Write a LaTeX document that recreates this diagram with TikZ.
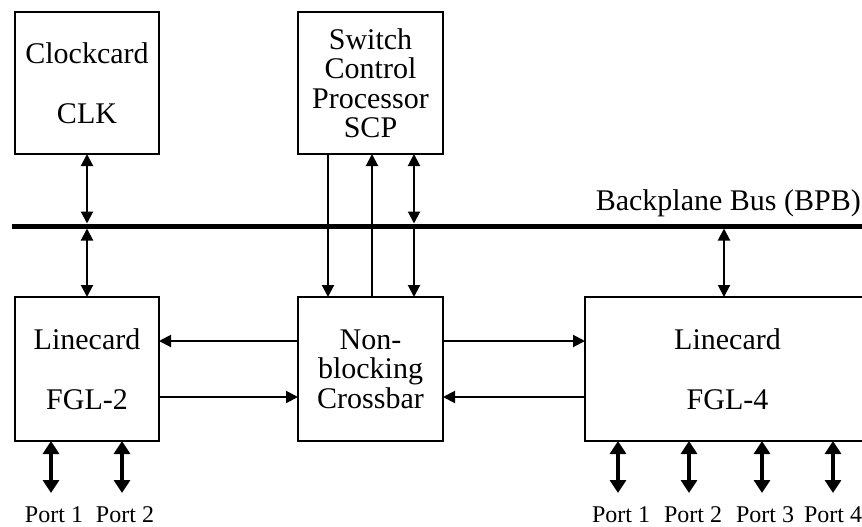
\documentclass[tikz,border=0pt]{standalone}
\usepackage{fontspec}
\setmainfont{Liberation Serif}
\usetikzlibrary{arrows.meta}
\begin{document}
\begin{tikzpicture}[x=1pt,y=-1pt,
  box/.style={draw,line width=2pt,inner sep=0pt,outer sep=0pt,align=center,font=\fontsize{30}{29.5}\selectfont},
  conn/.style={line width=2pt,>={Triangle[length=12pt,width=12pt]}},
  port/.style={line width=4.5pt,>={Triangle[length=13pt,width=16pt]}},
  plabel/.style={font=\fontsize{24}{24}\selectfont,inner sep=0pt},
  buslabel/.style={font=\fontsize{30}{30}\selectfont,inner sep=0pt}]
\useasboundingbox (0,0) rectangle (862,527);
% boxes
\node[box,minimum width=144pt,minimum height=142pt] (clk) at (87,83) {Clockcard\\[31pt]CLK};
\node[box,minimum width=145pt,minimum height=142pt] (scp) at (370.5,83) {Switch\\Control\\Processor\\SCP};
\node[box,minimum width=144pt,minimum height=144pt] (fgl2) at (87,369) {Linecard\\[31pt]FGL-2};
\node[box,minimum width=145pt,minimum height=144pt] (xbar) at (370.5,369) {Non-\\blocking\\Crossbar};
\node[box,minimum width=285pt,minimum height=144pt] (fgl4) at (727.5,369) {Linecard\\[31pt]FGL-4};
% bus
\coordinate (busL) at (12,226);
\coordinate (busR) at (870,226);
\draw[line width=5pt] (busL) -- (busR);
\node[buslabel,anchor=east] (bpb) at (861,203) {Backplane Bus (BPB)};
% bus tap coordinates
\coordinate (bc1) at (87,223.5);
\coordinate (bc2) at (87,228.5);
\coordinate (bs1) at (414,223.5);
\coordinate (bs2) at (414,228.5);
\coordinate (bf1) at (724,228.5);
% clock connections
\draw[conn,<->] (clk.south) -- (bc1);
\draw[conn,<->] (bc2) -- (fgl2.north);
% SCP connections
\draw[conn,->] ([xshift=30pt]scp.south west) -- ([xshift=30pt]xbar.north west);
\draw[conn,->] ([xshift=74pt]xbar.north west) -- ([xshift=74pt]scp.south west);
\draw[conn,<->] ([xshift=116pt]scp.south west) -- (bs1);
\draw[conn,->] (bs2) -- ([xshift=116pt]xbar.north west);
% FGL-4 to bus
\draw[conn,<->] (bf1) -- ([xshift=139pt]fgl4.north west);
% horizontal links
\draw[conn,->] ([yshift=28pt]xbar.west) -- ([yshift=28pt]fgl2.east);
\draw[conn,->] ([yshift=-28pt]fgl2.east) -- ([yshift=-28pt]xbar.west);
\draw[conn,->] ([yshift=28pt]xbar.east) -- ([yshift=28pt]fgl4.west);
\draw[conn,->] ([yshift=-28pt]fgl4.west) -- ([yshift=-28pt]xbar.east);
% ports
\coordinate (q1) at (51,493);
\coordinate (q2) at (122,493);
\coordinate (r1) at (618,493);
\coordinate (r2) at (689,493);
\coordinate (r3) at (762,493);
\coordinate (r4) at (833,493);
\draw[port,<->] ([xshift=36pt]fgl2.south west) -- (q1);
\draw[port,<->] ([xshift=107pt]fgl2.south west) -- (q2);
\draw[port,<->] ([xshift=33pt]fgl4.south west) -- (r1);
\draw[port,<->] ([xshift=104pt]fgl4.south west) -- (r2);
\draw[port,<->] ([xshift=177pt]fgl4.south west) -- (r3);
\draw[port,<->] ([xshift=248pt]fgl4.south west) -- (r4);
\node[plabel] (pl1) at (54,515) {Port 1};
\node[plabel] (pl2) at (125,515) {Port 2};
\node[plabel] (pr1) at (621,515) {Port 1};
\node[plabel] (pr2) at (693,515) {Port 2};
\node[plabel] (pr3) at (765,515) {Port 3};
\node[plabel] (pr4) at (833,515) {Port 4};
\end{tikzpicture}
\end{document}
